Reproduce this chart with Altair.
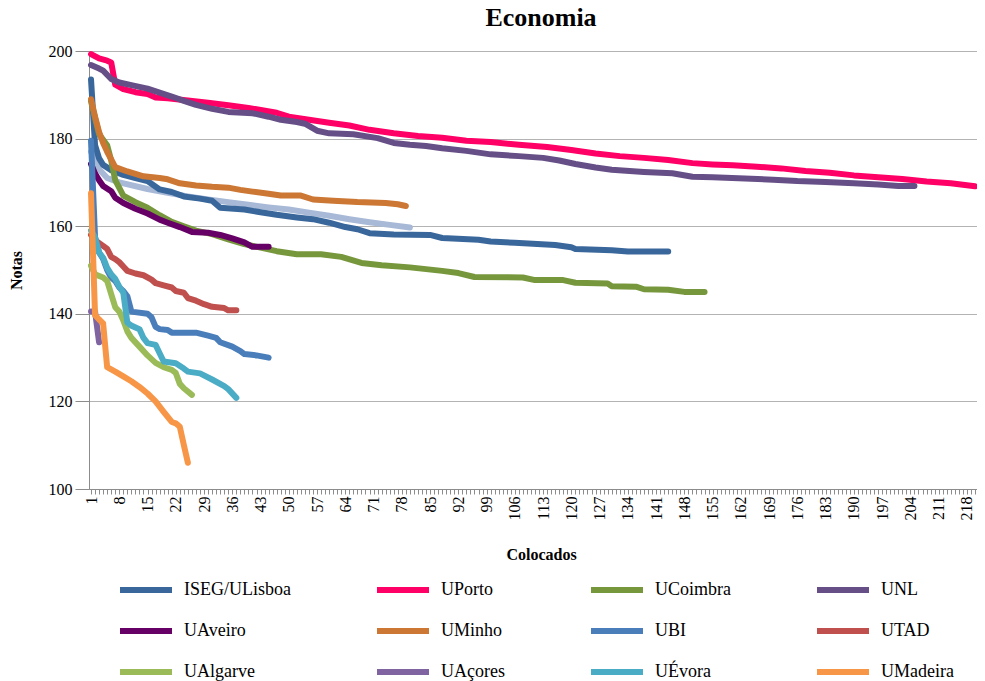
import altair as alt
import pandas as pd

FONT = "Liberation Serif"

# ---- data (Colocados index, Nota) ----
iseg_x = [1, 2, 3, 4, 6, 9, 12, 15, 18, 21, 24, 28, 31, 33, 39, 43, 47, 52, 56, 60, 64, 67, 70, 76, 85, 88, 97, 100, 106, 116, 120, 121, 130, 134, 144]
iseg_y = [193.5, 178.5, 175.5, 174, 172.8, 171.7, 171, 170.3, 168.4, 167.8, 166.8, 166.3, 165.8, 164.2, 163.8, 163.2, 162.6, 162, 161.6, 160.8, 159.8, 159.3, 158.4, 158.1, 158, 157.3, 156.9, 156.5, 156.2, 155.7, 155.2, 154.8, 154.5, 154.2, 154.2]

porto_x = [1, 3, 5, 6, 7, 9, 12, 15, 17, 20, 25, 30, 35, 40, 47, 50, 55, 60, 65, 70, 76, 82, 88, 94, 100, 107, 114, 120, 126, 132, 138, 144, 150, 155, 160, 166, 172, 178, 184, 190, 196, 202, 208, 214, 220]
porto_y = [199.3, 198.3, 197.8, 197.4, 192.3, 191.3, 190.6, 190.2, 189.4, 189.2, 188.7, 188.2, 187.6, 187, 185.9, 185, 184.3, 183.6, 183, 182, 181.2, 180.6, 180.2, 179.5, 179.2, 178.6, 178.1, 177.4, 176.6, 176, 175.6, 175.1, 174.4, 174.1, 173.9, 173.6, 173.2, 172.6, 172.2, 171.6, 171.2, 170.8, 170.2, 169.8, 169.1]

coimbra_x = [1, 3, 5, 6, 7, 9, 12, 15, 18, 21, 24, 27, 31, 35, 39, 43, 47, 52, 58, 63, 68, 73, 80, 88, 92, 96, 108, 111, 118, 121, 129, 130, 136, 138, 144, 148, 153]
coimbra_y = [188.5, 181, 178.5, 175, 170.5, 167, 165.5, 164.2, 162.5, 161, 160, 159, 158.2, 157, 155.9, 155.1, 154.3, 153.6, 153.6, 153, 151.6, 151.1, 150.6, 149.8, 149.3, 148.4, 148.3, 147.7, 147.7, 147.1, 146.9, 146.3, 146.2, 145.6, 145.5, 145, 145]

unl_x = [1, 3, 4, 6, 8, 11, 15, 18, 21, 24, 27, 31, 35, 41, 45, 48, 52, 54, 57, 60, 66, 72, 76, 80, 84, 88, 94, 100, 107, 113, 117, 121, 126, 130, 138, 145, 150, 155, 163, 170, 176, 183, 190, 196, 201, 205]
unl_y = [196.8, 196, 195.5, 193.6, 192.8, 192.2, 191.4, 190.5, 189.6, 188.6, 187.7, 186.8, 186.1, 185.8, 185, 184.3, 183.8, 183.4, 181.8, 181.2, 181, 180.1, 179, 178.6, 178.3, 177.8, 177.2, 176.4, 176, 175.6, 175, 174.2, 173.4, 172.9, 172.4, 172.1, 171.3, 171.2, 170.9, 170.6, 170.3, 170.1, 169.8, 169.5, 169.2, 169.2]

aveiro_x = [1, 2, 3, 4, 6, 7, 9, 12, 15, 18, 20, 23, 26, 30, 33, 36, 39, 41, 45]
aveiro_y = [174.2, 172, 170.5, 169.2, 168, 166.5, 165.3, 164, 162.9, 161.5, 160.8, 159.8, 158.7, 158.5, 158, 157.2, 156.3, 155.3, 155.3]

minho_x = [1, 2, 3, 4, 5, 7, 10, 14, 18, 20, 23, 27, 31, 35, 38, 41, 45, 48, 53, 56, 61, 67, 74, 77, 79]
minho_y = [189, 185, 181.5, 179, 177, 173.5, 172.5, 171.4, 171, 170.7, 169.8, 169.3, 169, 168.8, 168.3, 167.9, 167.4, 167, 167, 166.1, 165.8, 165.5, 165.3, 165, 164.6]

ubi_x = [1, 2, 3, 4, 5, 6, 7, 8, 9, 10, 11, 15, 16, 17, 18, 20, 21, 27, 30, 32, 33, 36, 38, 39, 42, 45]
ubi_y = [179.5, 157.5, 154, 152.5, 150, 148.3, 147.5, 146, 145.2, 144, 140.5, 140, 139.2, 137, 136.5, 136.3, 135.7, 135.7, 135, 134.5, 133.5, 132.5, 131.5, 130.8, 130.5, 130]

utad_x = [1, 2, 4, 5, 6, 7, 8, 9, 10, 12, 14, 16, 17, 19, 21, 22, 24, 25, 27, 29, 31, 34, 35, 37]
utad_y = [158, 156.8, 155.5, 154.8, 153, 152.5, 151.8, 150.8, 149.8, 149.2, 148.8, 147.8, 147, 146.5, 146, 145.2, 144.8, 143.6, 143, 142.2, 141.6, 141.3, 140.8, 140.8]

algarve_x = [1, 2, 4, 5, 6, 7, 8, 9, 10, 11, 13, 15, 17, 19, 21, 22, 23, 24, 26]
algarve_y = [151, 149, 148.3, 147.5, 144.5, 141.5, 140.5, 138.5, 136, 134.5, 132.5, 130.5, 128.8, 127.8, 127.2, 126.5, 124, 123, 121.5]

acores_x = [1, 2, 3]
acores_y = [140.5, 140.5, 133.5]

evora_x = [1, 2, 3, 4, 5, 6, 7, 8, 9, 10, 11, 13, 14, 15, 17, 18, 19, 22, 24, 25, 28, 31, 34, 35, 37]
evora_y = [159, 157.5, 154, 152.8, 150.5, 149, 148, 146.2, 144.8, 138, 137.3, 136.5, 134.5, 133.3, 132.9, 131, 129.1, 128.7, 127.5, 126.8, 126.4, 125, 123.5, 122.8, 120.8]

madeira_x = [1, 2, 3, 4, 5, 7, 9, 11, 13, 15, 17, 19, 21, 22, 23, 24, 25]
madeira_y = [167.5, 139.7, 138.7, 137.8, 127.8, 126.8, 125.7, 124.6, 123.3, 121.8, 120, 117.6, 115.3, 115, 114.2, 110, 106]

# series drawn without a legend entry (light steel blue)
extra_x = [1, 2, 3, 5, 8, 15, 20, 25, 30, 35, 40, 45, 50, 55, 60, 65, 70, 75, 80]
extra_y = [177, 175, 173, 171, 170, 168.5, 167.6, 166.8, 166.1, 165.5, 164.9, 164.3, 163.8, 163.1, 162.4, 161.6, 160.9, 160.3, 159.7]

names = ["ISEG/ULisboa", "UPorto", "UCoimbra", "UNL", "UAveiro", "UMinho",
         "UBI", "UTAD", "UAlgarve", "UAçores", "UÉvora", "UMadeira"]
colors = ["#3A679B", "#FF0066", "#77973D", "#664F86", "#660066", "#CC7733",
          "#4A7EBB", "#C0504D", "#9BBB59", "#8064A2", "#4BACC6", "#F79646"]
xs = [iseg_x, porto_x, coimbra_x, unl_x, aveiro_x, minho_x, ubi_x, utad_x,
      algarve_x, acores_x, evora_x, madeira_x]
ys = [iseg_y, porto_y, coimbra_y, unl_y, aveiro_y, minho_y, ubi_y, utad_y,
      algarve_y, acores_y, evora_y, madeira_y]

rows = []
for i, (n, xx, yy) in enumerate(zip(names, xs, ys)):
    for a, b in zip(xx, yy):
        rows.append({"Universidade": n, "Colocados": a, "Nota": b, "ord": i})
df = pd.DataFrame(rows)
df_extra = pd.DataFrame({"Colocados": extra_x, "Nota": extra_y})

x_ticks = list(range(1, 221))

x_enc = alt.X(
    "Colocados:Q",
    scale=alt.Scale(domain=[0.5, 220.5], nice=False, zero=False),
    axis=alt.Axis(
        values=x_ticks,
        labelExpr="(datum.value - 1) % 7 == 0 ? datum.label : ''",
        labelAngle=-90, labelAlign="right", labelBaseline="middle",
        labelOverlap=False, labelFlush=False, labelBound=False,
        grid=False, tickSize=5, tickColor="#8C8C8C", domainColor="#8C8C8C",
        labelFont=FONT, labelFontSize=16, labelColor="black", labelPadding=2,
        title="Colocados", titleFont=FONT, titleFontSize=16, titleFontWeight="bold",
        titleColor="black", titlePadding=26, titleX=452, format="d",
    ),
)
y_enc = alt.Y(
    "Nota:Q",
    scale=alt.Scale(domain=[100, 200], nice=False, zero=False),
    axis=alt.Axis(
        values=[100, 120, 140, 160, 180, 200],
        grid=True, gridColor="#B3B3B3", gridWidth=1,
        tickSize=14, tickColor="#8C8C8C", domainColor="#8C8C8C",
        labelFont=FONT, labelFontSize=16, labelColor="black", labelPadding=3,
        title="Notas", titleFont=FONT, titleFontSize=16, titleFontWeight="bold",
        titleColor="black", titlePadding=24,
    ),
)

extra = alt.Chart(df_extra).mark_line(
    strokeWidth=6, strokeCap="round", strokeJoin="round", color="#A7B9D6"
).encode(x=x_enc, y=y_enc)

lines = alt.Chart(df).mark_line(
    strokeWidth=6, strokeCap="round", strokeJoin="round"
).encode(
    x=x_enc,
    y=y_enc,
    color=alt.Color(
        "Universidade:N",
        scale=alt.Scale(domain=names, range=colors),
        sort=names,
        legend=alt.Legend(
            title=None, orient="none", legendX=28, legendY=510,
            direction="horizontal", columns=4, symbolType="stroke",
            symbolSize=2704, symbolStrokeWidth=6,
            labelFont=FONT, labelFontSize=18, labelColor="black",
            labelOffset=9, columnPadding=74, rowPadding=-3.5,
            gridAlign="each",
        ),
    ),
    order=alt.Order("ord:Q"),
)

chart = alt.layer(extra, lines).properties(
    width=888, height=438,
    title=alt.TitleParams("Economia", font=FONT, fontSize=26, fontWeight="bold",
                          color="black", anchor="middle", offset=12, dx=8),
    autosize=alt.AutoSizeParams(type="none"),
    padding={"left": 81, "top": 43, "right": 0, "bottom": 196},
).configure_view(stroke=None)

chart.save("out.html", embed_options={"renderer": "svg", "actions": False})
